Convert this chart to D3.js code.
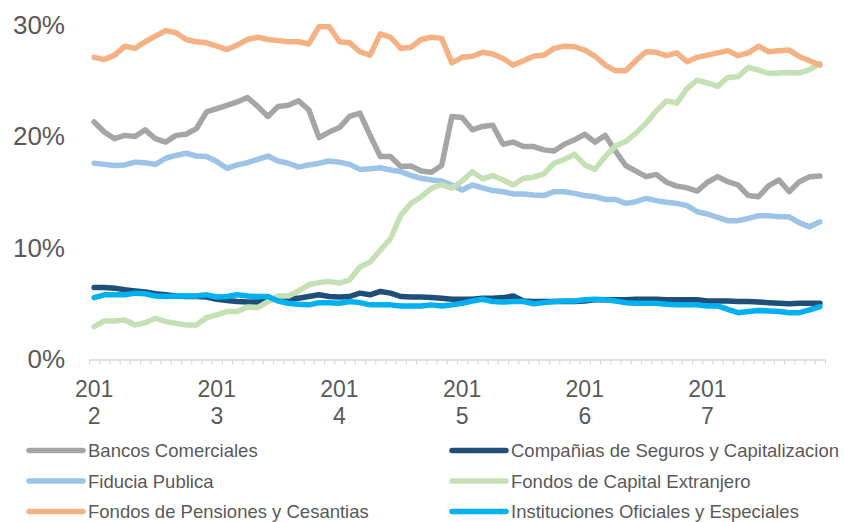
<!DOCTYPE html>
<html>
<head>
    <meta charset='utf-8'/>
    <title>Tenedores de TES</title>
    <style>
        body {
            margin: 0;
            background: #fff;
        }

        text {
            font-family: "Liberation Sans", Arial, sans-serif;
            fill: #595959;
        }

        .series {
            fill: none;
            stroke-width: 5.5;
            stroke-linejoin: round;
            stroke-linecap: round;
        }
    </style>
</head>
<body>
<div id="chart"></div>

<script src="https://d3js.org/d3.v7.min.js"></script>
<script type="text/javascript">

    // years shown on the axis (one label every 12 months)
    var years = ["2012", "2013", "2014", "2015", "2016", "2017"];

    // y tick labels
    var yTicks = [0, 10, 20, 30];

    // series names (legend order)
    var names = [
        "Bancos Comerciales",
        "Compañias de Seguros y Capitalizacion",
        "Fiducia Publica",
        "Fondos de Capital Extranjero",
        "Fondos de Pensiones y Cesantias",
        "Instituciones Oficiales y Especiales"
    ];

    var colors = ["#A5A5A5", "#1F4E79", "#9DC3E6", "#C5E0B4", "#F4B183", "#00B0F0"];

    // monthly share (%), Jan 2012 - Dec 2017
    var bancos = [21.3, 20.4, 19.8, 20.1, 20.0, 20.6, 19.8, 19.5, 20.1, 20.2, 20.7, 22.2,
        22.5, 22.8, 23.1, 23.5, 22.7, 21.8, 22.7, 22.8, 23.2, 22.4, 19.9, 20.4,
        20.8, 21.8, 22.1, 20.1, 18.2, 18.2, 17.3, 17.35, 16.9, 16.8, 17.4, 21.8,
        21.7, 20.6, 20.9, 21.0, 19.3, 19.5, 19.1, 19.1, 18.8, 18.7, 19.3, 19.7,
        20.2, 19.5, 20.1, 18.7, 17.4, 16.9, 16.4, 16.6, 15.9, 15.55, 15.4, 15.1,
        15.9, 16.4, 15.95, 15.65, 14.7, 14.6, 15.6, 16.1, 15.05, 15.95, 16.4, 16.45];

    var seguros = [6.45, 6.45, 6.4, 6.25, 6.15, 6.05, 5.9, 5.8, 5.7, 5.65, 5.65, 5.6,
        5.4, 5.3, 5.2, 5.15, 5.15, 5.25, 5.55, 5.5, 5.5, 5.65, 5.8, 5.65,
        5.6, 5.65, 5.95, 5.8, 6.1, 5.95, 5.65, 5.6, 5.6, 5.55, 5.5, 5.4,
        5.4, 5.4, 5.5, 5.5, 5.55, 5.7, 5.25, 5.2, 5.2, 5.2, 5.2, 5.2,
        5.25, 5.35, 5.35, 5.35, 5.35, 5.4, 5.4, 5.4, 5.35, 5.35, 5.35, 5.35,
        5.25, 5.25, 5.25, 5.2, 5.2, 5.15, 5.1, 5.05, 5.0, 5.05, 5.05, 5.05];

    var fiducia = [17.6, 17.5, 17.4, 17.45, 17.7, 17.65, 17.5, 18.05, 18.3, 18.5, 18.25, 18.2,
        17.75, 17.15, 17.45, 17.65, 17.95, 18.25, 17.8, 17.6, 17.25, 17.45, 17.6, 17.8,
        17.7, 17.5, 17.05, 17.1, 17.2, 17.0, 16.85, 16.5, 16.25, 16.1, 16.0, 15.65,
        15.2, 15.65, 15.4, 15.15, 15.05, 14.85, 14.85, 14.75, 14.7, 15.05, 15.05, 14.9,
        14.7, 14.6, 14.35, 14.35, 14.0, 14.15, 14.45, 14.25, 14.1, 14.0, 13.8, 13.25,
        13.05, 12.75, 12.45, 12.45, 12.65, 12.9, 12.9, 12.8, 12.8, 12.25, 11.9, 12.35];

    var extranjero = [2.95, 3.45, 3.45, 3.55, 3.1, 3.3, 3.7, 3.4, 3.25, 3.1, 3.1, 3.75,
        4.0, 4.3, 4.3, 4.7, 4.65, 5.2, 5.7, 5.7, 6.15, 6.7, 6.9, 7.0,
        6.85, 7.15, 8.3, 8.75, 9.8, 10.85, 12.95, 14.0, 14.6, 15.35, 15.7, 15.35,
        16.0, 16.85, 16.2, 16.5, 16.1, 15.65, 16.25, 16.35, 16.65, 17.6, 17.95, 18.4,
        17.45, 17.05, 18.2, 19.15, 19.55, 20.3, 21.2, 22.3, 23.2, 23.0, 24.3, 25.05,
        24.8, 24.5, 25.3, 25.35, 26.2, 25.95, 25.65, 25.7, 25.75, 25.7, 26.0, 26.55];

    var pensiones = [27.1, 26.9, 27.3, 28.1, 27.9, 28.5, 29.0, 29.5, 29.3, 28.7, 28.5, 28.4,
        28.1, 27.8, 28.2, 28.7, 28.9, 28.7, 28.6, 28.5, 28.5, 28.3, 29.85, 29.85,
        28.5, 28.4, 27.6, 27.3, 29.2, 28.9, 27.9, 28.0, 28.7, 28.9, 28.8, 26.6,
        27.1, 27.2, 27.55, 27.4, 27.0, 26.4, 26.8, 27.2, 27.3, 27.9, 28.1, 28.05,
        27.75, 27.2, 26.4, 25.9, 25.9, 26.8, 27.6, 27.55, 27.25, 27.5, 26.7, 27.1,
        27.3, 27.5, 27.7, 27.25, 27.5, 28.1, 27.6, 27.7, 27.75, 27.15, 26.8, 26.4];

    var oficiales = [5.55, 5.8, 5.8, 5.8, 5.95, 5.9, 5.7, 5.65, 5.7, 5.7, 5.7, 5.8,
        5.6, 5.65, 5.8, 5.7, 5.65, 5.65, 5.25, 5.05, 4.95, 4.9, 5.1, 5.1,
        5.05, 5.2, 5.1, 4.9, 4.9, 4.9, 4.8, 4.8, 4.8, 4.9, 4.8, 4.9,
        5.05, 5.25, 5.4, 5.2, 5.15, 5.2, 5.2, 5.0, 5.1, 5.2, 5.25, 5.25,
        5.35, 5.4, 5.35, 5.25, 5.1, 5.05, 5.05, 5.05, 4.95, 4.9, 4.9, 4.9,
        4.8, 4.8, 4.5, 4.2, 4.3, 4.4, 4.35, 4.3, 4.2, 4.2, 4.45, 4.75];

    var allSeries = [bancos, seguros, fiducia, extranjero, pensiones, oficiales];

    // dims
    var svg_dx = 844,
        svg_dy = 522;

    var nMonths = bancos.length;

    // scales: x edges of the monthly categories, points in the middle
    var x = d3.scaleLinear().domain([0, nMonths]).range([89, 825]),
        y = d3.scaleLinear().domain([0, 30]).range([359.5, 25]);

    var svg = d3.select("#chart")
        .append("svg")
        .attr("width", svg_dx)
        .attr("height", svg_dy);

    /* x axis: line + small ticks between categories */
    var xAxis = svg.append("g")
        .attr("transform", "translate(0," + y(0) + ")")
        .call(d3.axisBottom(x)
            .tickValues(d3.range(nMonths + 1))
            .tickSize(5)
            .tickSizeOuter(0)
            .tickFormat(""));

    xAxis.select(".domain")
        .attr("stroke", "#D9D9D9")
        .attr("stroke-width", 1.5);
    xAxis.selectAll(".tick line")
        .attr("stroke", "#D9D9D9")
        .attr("stroke-width", 1.2);

    /* year labels, wrapped like the original ("201" / "2") */
    var yearLabels = svg.append("g")
        .selectAll("text")
        .data(years)
        .enter()
        .append("text")
        .attr("text-anchor", "middle")
        .style("font-size", "23px");

    yearLabels.append("tspan")
        .attr("x", (d, i) => x(i * 12 + 0.5))
        .attr("y", 396.5)
        .text(d => d.slice(0, 3));

    yearLabels.append("tspan")
        .attr("x", (d, i) => x(i * 12 + 0.5))
        .attr("y", 423.5)
        .text(d => d.slice(3));

    /* y labels */
    svg.append("g")
        .selectAll("text")
        .data(yTicks)
        .enter()
        .append("text")
        .attr("x", 65)
        .attr("y", d => y(d) + 8.5)
        .attr("text-anchor", "end")
        .style("font-size", "26px")
        .text(d => d + "%");

    /* lines, drawn in series order so later ones sit on top */
    var line = d3.line()
        .x((d, i) => x(i + 0.5))
        .y(d => y(d));

    svg.append("g")
        .selectAll("path")
        .data(allSeries)
        .enter()
        .append("path")
        .attr("class", "series")
        .attr("stroke", (d, i) => colors[i])
        .attr("d", line);

    /* legend: two columns, three rows */
    var legend = svg.append("g")
        .selectAll("g")
        .data(names)
        .enter()
        .append("g")
        .attr("transform", (d, i) => "translate(" + (i % 2 === 0 ? 29 : 452) + "," + (450.5 + Math.floor(i / 2) * 30.5) + ")");

    legend.append("line")
        .attr("x1", 0)
        .attr("x2", 54)
        .attr("stroke", (d, i) => colors[i])
        .attr("stroke-width", 5.5)
        .attr("stroke-linecap", "round");

    legend.append("text")
        .attr("x", 59)
        .attr("y", 6.5)
        .style("font-size", "18.5px")
        .text(d => d);

</script>

</body>
</html>
